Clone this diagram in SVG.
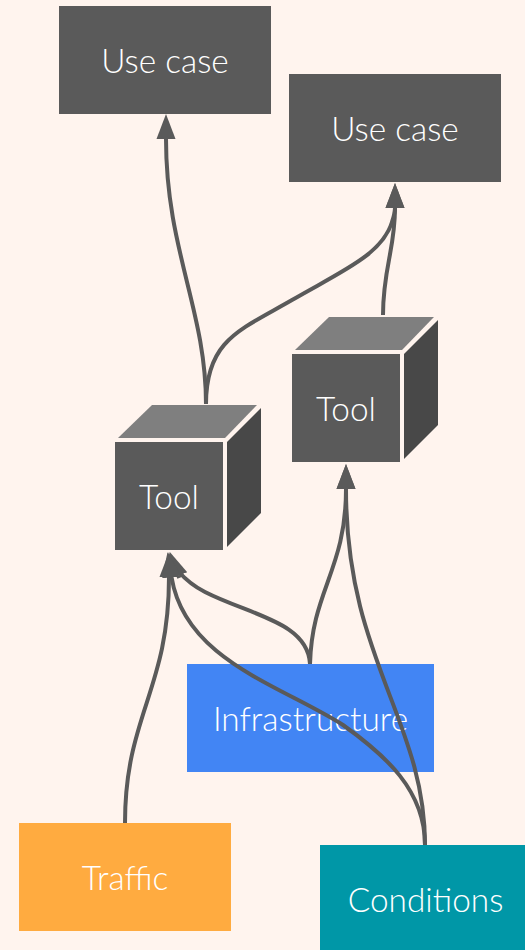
<svg xmlns="http://www.w3.org/2000/svg" width="525" height="950" viewBox="0 0 525 950">
<style>
text{font-family:Lato,"Open Sans",sans-serif;font-size:33.400px;font-weight:300;fill:#fff;text-anchor:middle}
.f{fill:#5a5a5a}.t{fill:#7f7f7f}.r{fill:#484848}
.c{fill:none;stroke:#5a5a5a;stroke-width:4;marker-end:url(#a)}
</style>
<defs><marker id="a" markerUnits="userSpaceOnUse" markerWidth="28" markerHeight="22" refX="0" refY="10" orient="auto"><path d="M0,0.500L25,10L0,19.500Z" fill="#5a5a5a"/></marker></defs>
<rect width="525" height="950" fill="#fff4ee"/>
<g id="usecase1"><rect class="f" x="59" y="6" width="212" height="108"/><text x="165" y="73">Use case</text></g>
<g id="usecase2"><rect class="f" x="289" y="74" width="212" height="108"/><text x="395" y="141">Use case</text></g>
<g id="tool1"><rect class="f" x="115" y="442" width="108" height="108"/><path class="t" d="M152,405H257L225,438H118Z"/><path class="r" d="M261,408V513L227,547V442Z"/><text x="169" y="509">Tool</text></g>
<g id="tool2"><rect class="f" x="292" y="354" width="108" height="108"/><path class="t" d="M329,317H434L402,350H295Z"/><path class="r" d="M438,320V425L404,459V354Z"/><text x="346" y="421">Tool</text></g>
<g id="infrastructure"><rect fill="#4285f4" x="187" y="664" width="247" height="108"/><text x="310.500" y="731">Infrastructure</text></g>
<g id="traffic"><rect fill="#ffab40" x="19" y="823" width="212" height="108"/><text x="125" y="890">Traffic</text></g>
<g id="conditions"><rect fill="#0097a7" x="320" y="845" width="205" height="105"/><text x="425.500" y="912">Conditions</text></g>
<g id="connectors">
<path class="c" d="M206,404C206,310 166,250 166,139"/>
<path class="c" d="M206,404C206,340 240,330 292,300C340,272 382,255 392,222C394,216 395,212 395,208"/>
<path class="c" d="M383,315C383,268 395,250 395,208"/>
<path class="c" d="M125,823C125,715 169,690 169,577"/>
<path class="c" d="M310,664C308,622 250,615 205,592C195,587 186,580 178,571M179.200,578L178.300,575.500"/>
<path class="c" d="M425,845C425,790 385,755 343,725C280,685 185,660 171.500,577"/>
<path class="c" d="M310,664C312,590 346,570 346,489"/>
<path class="c" d="M425,845C425,720 346,660 346,489"/>
</g>
</svg>
